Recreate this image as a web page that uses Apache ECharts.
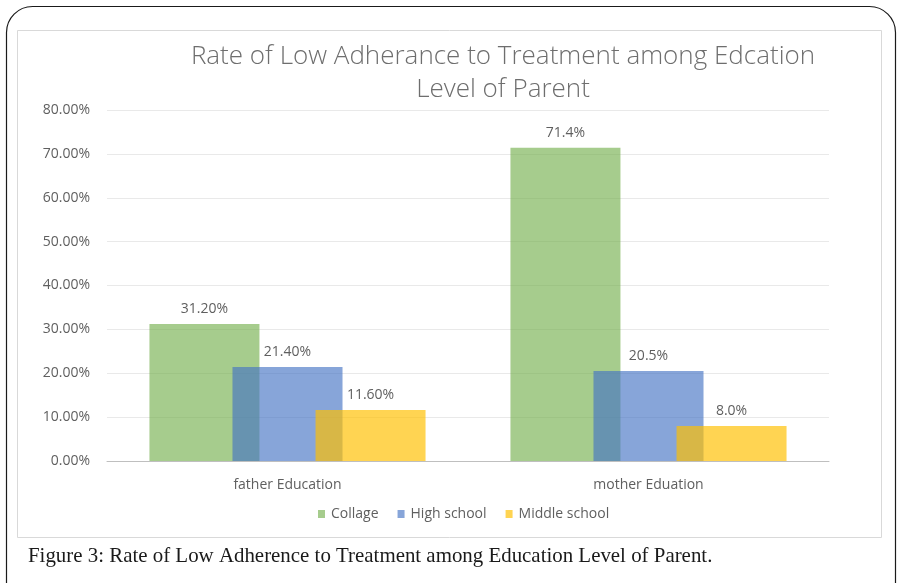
<!DOCTYPE html>
<html>
<head>
<meta charset="utf-8">
<script src="https://cdn.jsdelivr.net/npm/echarts@6/dist/echarts.min.js"></script>
<style>
  html, body { margin: 0; padding: 0; background: #fff; }
  #chart { width: 902px; height: 583px; }
</style>
</head>
<body>
<div id="chart"></div>
<script>
// Categories and series values (percent)
const categories = ['father Education', 'mother Eduation'];
const seriesNames = ['Collage', 'High school', 'Middle school'];
const collage = [31.2, 71.4];
const highSchool = [21.4, 20.5];
const middleSchool = [11.6, 8.0];
// decimals shown in each category's data labels
const labelDecimals = [2, 1];
const yTicks = [0, 10, 20, 30, 40, 50, 60, 70, 80];

const colors = ['rgba(112,173,71,0.62)', 'rgba(68,114,196,0.64)', 'rgba(255,192,0,0.68)'];
const values = [collage, highSchool, middleSchool];

const chart = echarts.init(document.getElementById('chart'), null, { renderer: 'canvas' });

const series = seriesNames.map((name, i) => ({
  name: name,
  type: 'bar',
  data: values[i],
  barWidth: 110,
  barGap: '-24.5%',
  itemStyle: { color: colors[i] },
  label: {
    show: true,
    position: 'top',
    distance: 8,
    color: '#5f5f5f',
    fontFamily: 'Open Sans',
    fontSize: 14,
    formatter: p => p.value.toFixed(labelDecimals[p.dataIndex]) + '%'
  }
}));

chart.setOption({
  animation: false,
  backgroundColor: '#ffffff',
  title: {
    text: 'Rate of Low Adherance to Treatment among Edcation\nLevel of Parent',
    left: 498,
    top: 35,
    textAlign: 'center',
    textStyle: {
      fontFamily: 'Open Sans',
      fontWeight: 300,
      fontSize: 26,
      lineHeight: 33,
      color: '#6e6e6e'
    }
  },
  legend: {
    data: seriesNames,
    left: 313,
    top: 502,
    itemWidth: 7,
    itemHeight: 8,
    itemGap: 19,
    icon: 'rect',
    textStyle: { fontFamily: 'Open Sans', fontSize: 14, color: '#5f5f5f', padding: [0, 0, 0, 1] }
  },
  grid: { left: 107, right: 73, top: 110, bottom: 122 },
  xAxis: {
    type: 'category',
    data: categories,
    axisTick: { show: false },
    axisLine: { lineStyle: { color: '#bfbfbf', width: 1 } },
    axisLabel: { margin: 17, fontFamily: 'Open Sans', fontSize: 14, color: '#5f5f5f' }
  },
  yAxis: {
    type: 'value',
    min: yTicks[0],
    max: yTicks[yTicks.length - 1],
    interval: 10,
    axisLine: { show: false },
    axisTick: { show: false },
    splitLine: { lineStyle: { color: '#e9e9e9', width: 1 } },
    axisLabel: {
      margin: 17,
      fontFamily: 'Open Sans',
      fontSize: 14,
      color: '#5f5f5f',
      formatter: v => v.toFixed(2) + '%'
    }
  },
  graphic: [
    {
      type: 'rect',
      shape: { x: 6.5, y: 6.5, width: 889, height: 640, r: 26 },
      style: { fill: null, stroke: '#1a1a1a', lineWidth: 1.2 },
      z: -1
    },
    {
      type: 'rect',
      shape: { x: 17.5, y: 30.5, width: 864, height: 507 },
      style: { fill: null, stroke: '#d9d9d9', lineWidth: 1 },
      z: -1
    },
    {
      type: 'text',
      left: 28,
      top: 546,
      style: {
        text: 'Figure 3: Rate of Low Adherence to Treatment among Education Level of Parent.',
        font: '20.9px "Liberation Serif", serif',
        fill: '#1a1a1a'
      }
    }
  ],
  series: series
});
</script>
</body>
</html>
